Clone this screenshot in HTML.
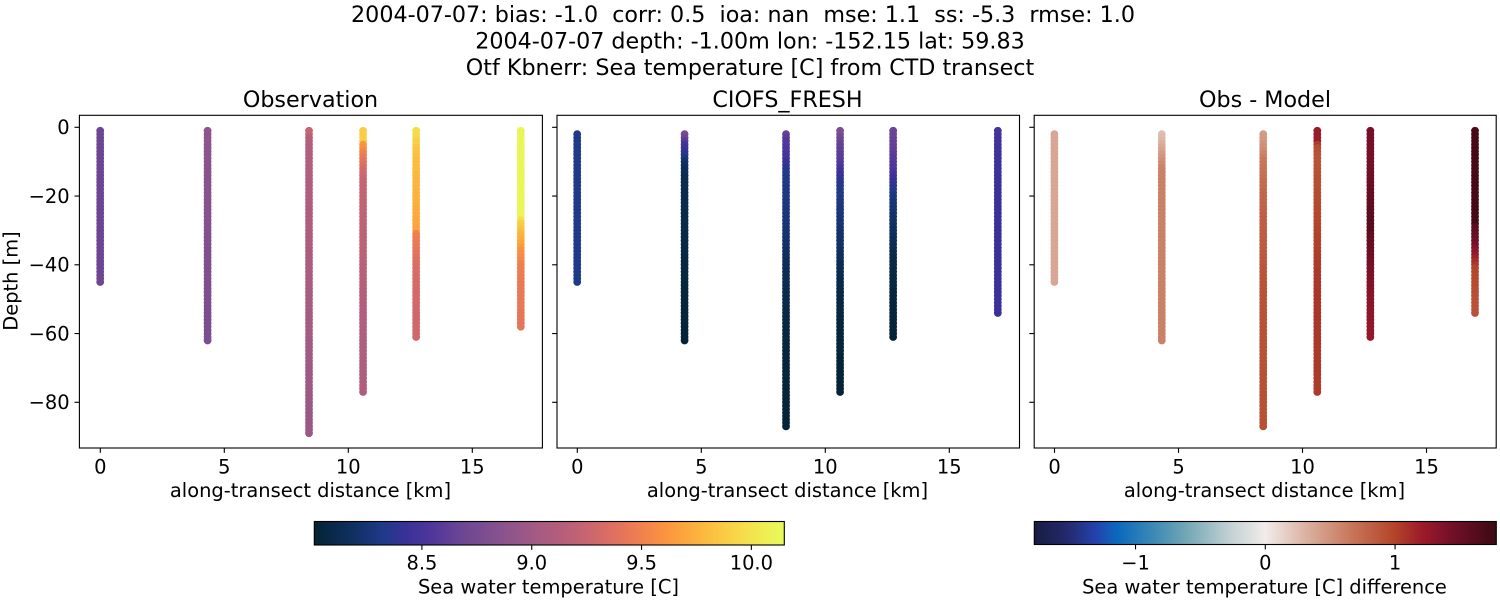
<!DOCTYPE html>
<html>
<head>
<meta charset="utf-8">
<title>CTD transect comparison</title>
<style>
html,body{margin:0;padding:0;background:#fff;}
svg{display:block;}
text{font-family:"DejaVu Sans","Liberation Sans",sans-serif;fill:#000;white-space:pre;}
.sup,.ttl{font-size:22.22px;text-anchor:middle;}
.lab{font-size:19.44px;text-anchor:middle;}
.tk{font-size:19.44px;text-anchor:middle;}
.tky{font-size:19.44px;text-anchor:end;}
</style>
</head>
<body>
<svg id="fig" xmlns="http://www.w3.org/2000/svg" width="1500" height="600" viewBox="0 0 1500 600">
<text class="sup" x="743" y="22">2004-07-07: bias: -1.0  corr: 0.5  ioa: nan  mse: 1.1  ss: -5.3  rmse: 1.0</text>
<text class="sup" x="750" y="48.5">2004-07-07 depth: -1.00m lon: -152.15 lat: 59.83</text>
<text class="sup" x="750" y="75">Otf Kbnerr: Sea temperature [C] from CTD transect</text>
<text class="ttl" x="310.5" y="107">Observation</text>
<text class="ttl" x="787.5" y="107">CIOFS_FRESH</text>
<text class="ttl" x="1265" y="107">Obs - Model</text>
<text class="lab" transform="translate(17.5 281) rotate(-90)">Depth [m]</text>
<text class="lab" x="310.5" y="497">along-transect distance [km]</text>
<text class="lab" x="787.5" y="497">along-transect distance [km]</text>
<text class="lab" x="1264.5" y="497">along-transect distance [km]</text>
<text class="lab" x="548.5" y="593.5">Sea water temperature [C]</text>
<text class="lab" x="1264.5" y="593.5">Sea water temperature [C] difference</text>
</svg>
<script>
const stationKm = [0, 4.33, 8.42, 10.6, 12.74, 16.96];
const xTickValues = [0, 5, 10, 15];
const yTickValues = [0, -20, -40, -60, -80];
const tempTickValues = [8.5, 9.0, 9.5, 10.0];
const diffTickValues = [-1, 0, 1];
const tempRange = [8.01, 10.15];
const diffRange = [-1.78, 1.78];

const obsTopDepth = [-1, -1, -1, -1, -1, -1];
const modelTopDepth = [-2, -2, -2, -1, -1, -1];
const diffTopDepth = [-2, -2, -2, -1, -1, -1];

const obsStation0 = [8.70,8.70,8.70,8.70,8.70,8.69,8.69,8.69,8.69,8.69,
8.69,8.69,8.69,8.69,8.69,8.69,8.69,8.69,8.69,8.69,
8.69,8.69,8.69,8.69,8.69,8.69,8.69,8.69,8.69,8.69,
8.69,8.69,8.69,8.69,8.69,8.69,8.69,8.69,8.69,8.69,
8.69,8.70,8.70,8.70,8.70];
const obsStation1 = [8.89,8.89,8.89,8.89,8.89,8.88,8.88,8.88,8.88,8.88,
8.87,8.87,8.87,8.87,8.87,8.86,8.86,8.86,8.86,8.86,
8.85,8.85,8.85,8.85,8.85,8.84,8.84,8.84,8.84,8.84,
8.83,8.83,8.83,8.83,8.83,8.82,8.82,8.82,8.82,8.82,
8.81,8.81,8.81,8.81,8.81,8.80,8.80,8.80,8.80,8.80,
8.79,8.79,8.79,8.79,8.79,8.78,8.78,8.78,8.78,8.78,
8.78,8.78];
const obsStation2 = [9.25,9.24,9.16,9.14,9.13,9.12,9.12,9.12,9.12,9.12,
9.12,9.12,9.12,9.12,9.12,9.11,9.11,9.11,9.11,9.11,
9.11,9.11,9.11,9.10,9.10,9.10,9.10,9.10,9.10,9.10,
9.09,9.09,9.09,9.09,9.09,9.08,9.08,9.08,9.08,9.08,
9.07,9.07,9.07,9.07,9.07,9.06,9.06,9.06,9.06,9.05,
9.05,9.05,9.05,9.04,9.04,9.04,9.04,9.03,9.03,9.03,
9.03,9.02,9.02,9.02,9.02,9.01,9.01,9.01,9.01,9.00,
9.00,9.00,9.00,8.99,8.99,8.99,8.99,8.98,8.98,8.98,
8.98,8.97,8.97,8.97,8.97,8.97,8.97,8.97,8.97];
const obsStation3 = [9.89,9.89,9.89,9.88,9.62,9.58,9.52,9.48,9.44,9.40,
9.37,9.34,9.31,9.28,9.25,9.24,9.23,9.23,9.22,9.22,
9.22,9.21,9.21,9.21,9.21,9.20,9.20,9.20,9.20,9.20,
9.20,9.19,9.19,9.19,9.19,9.18,9.18,9.18,9.17,9.17,
9.17,9.16,9.16,9.16,9.15,9.15,9.14,9.14,9.13,9.13,
9.12,9.12,9.12,9.12,9.12,9.12,9.12,9.12,9.11,9.11,
9.11,9.11,9.11,9.11,9.11,9.11,9.11,9.10,9.10,9.10,
9.10,9.10,9.10,9.10,9.10,9.10,9.10];
const obsStation4 = [9.96,9.96,9.94,9.90,9.88,9.85,9.84,9.82,9.81,9.80,
9.80,9.79,9.79,9.78,9.78,9.77,9.77,9.76,9.76,9.75,
9.75,9.74,9.73,9.72,9.72,9.71,9.70,9.70,9.69,9.68,
9.50,9.48,9.46,9.45,9.43,9.42,9.40,9.38,9.37,9.35,
9.34,9.34,9.33,9.33,9.32,9.32,9.32,9.31,9.31,9.31,
9.30,9.30,9.30,9.29,9.29,9.29,9.29,9.28,9.28,9.28,
9.28];
const obsStation5 = [10.12,10.12,10.12,10.12,10.12,10.12,10.12,10.12,10.12,10.12,
10.12,10.12,10.12,10.12,10.12,10.12,10.12,10.12,10.12,10.12,
10.12,10.12,10.12,10.12,10.12,10.11,9.98,9.90,9.86,9.82,
9.78,9.75,9.72,9.68,9.64,9.60,9.57,9.55,9.52,9.50,
9.49,9.48,9.47,9.46,9.45,9.45,9.44,9.44,9.44,9.43,
9.43,9.43,9.43,9.42,9.42,9.42,9.42,9.42];
const obsSeries = [obsStation0, obsStation1, obsStation2, obsStation3, obsStation4, obsStation5];

const modelStation0 = [8.33,8.33,8.33,8.33,8.33,8.32,8.32,8.32,8.32,8.32,
8.32,8.32,8.32,8.32,8.32,8.32,8.32,8.32,8.32,8.32,
8.32,8.32,8.32,8.32,8.32,8.32,8.32,8.32,8.32,8.32,
8.32,8.32,8.32,8.32,8.32,8.32,8.32,8.32,8.32,8.32,
8.32,8.32,8.32,8.32];
const modelStation1 = [8.77,8.70,8.60,8.50,8.45,8.40,8.35,8.28,8.22,8.19,
8.16,8.15,8.14,8.12,8.12,8.12,8.12,8.11,8.11,8.11,
8.11,8.11,8.11,8.10,8.10,8.10,8.10,8.10,8.10,8.09,
8.09,8.09,8.08,8.08,8.08,8.08,8.07,8.07,8.07,8.07,
8.06,8.06,8.06,8.06,8.05,8.05,8.05,8.05,8.05,8.04,
8.04,8.04,8.04,8.04,8.04,8.04,8.03,8.03,8.03,8.03,
8.03];
const modelStation2 = [8.65,8.60,8.55,8.54,8.53,8.52,8.50,8.50,8.42,8.42,
8.35,8.35,8.34,8.33,8.32,8.31,8.30,8.30,8.30,8.29,
8.29,8.29,8.28,8.28,8.27,8.27,8.26,8.26,8.25,8.24,
8.23,8.22,8.21,8.20,8.19,8.18,8.17,8.16,8.15,8.15,
8.14,8.14,8.13,8.13,8.12,8.12,8.11,8.11,8.10,8.10,
8.10,8.09,8.09,8.08,8.08,8.07,8.07,8.07,8.06,8.06,
8.06,8.05,8.05,8.05,8.05,8.05,8.04,8.04,8.04,8.04,
8.04,8.04,8.04,8.04,8.03,8.03,8.03,8.03,8.03,8.03,
8.03,8.03,8.03,8.03,8.03,8.03];
const modelStation3 = [8.80,8.78,8.72,8.70,8.65,8.64,8.62,8.61,8.60,8.58,
8.54,8.50,8.46,8.42,8.40,8.38,8.35,8.33,8.33,8.32,
8.31,8.30,8.29,8.28,8.28,8.27,8.26,8.25,8.24,8.23,
8.22,8.21,8.21,8.20,8.20,8.19,8.18,8.17,8.16,8.15,
8.14,8.13,8.12,8.11,8.10,8.10,8.09,8.09,8.08,8.08,
8.07,8.07,8.06,8.06,8.05,8.05,8.05,8.05,8.04,8.04,
8.04,8.04,8.04,8.04,8.04,8.04,8.03,8.03,8.03,8.03,
8.03,8.03,8.03,8.03,8.03,8.03,8.03];
const modelStation4 = [8.68,8.68,8.67,8.66,8.65,8.64,8.62,8.60,8.59,8.58,
8.56,8.55,8.52,8.48,8.44,8.40,8.38,8.35,8.32,8.30,
8.29,8.27,8.26,8.25,8.23,8.22,8.21,8.20,8.19,8.18,
8.17,8.16,8.15,8.14,8.13,8.12,8.11,8.10,8.10,8.09,
8.09,8.08,8.08,8.07,8.07,8.06,8.06,8.05,8.05,8.05,
8.05,8.04,8.04,8.04,8.04,8.04,8.03,8.03,8.03,8.03,
8.03];
const modelStation5 = [8.50,8.49,8.48,8.47,8.47,8.46,8.46,8.46,8.45,8.45,
8.45,8.45,8.45,8.45,8.45,8.45,8.45,8.44,8.44,8.44,
8.44,8.44,8.44,8.44,8.44,8.44,8.44,8.44,8.44,8.44,
8.44,8.44,8.44,8.44,8.44,8.44,8.44,8.44,8.44,8.44,
8.44,8.44,8.44,8.44,8.44,8.44,8.44,8.44,8.44,8.44,
8.44,8.44,8.44,8.44];
const modelSeries = [modelStation0, modelStation1, modelStation2, modelStation3, modelStation4, modelStation5];

const diffStation0 = [0.38,0.38,0.38,0.38,0.38,0.38,0.38,0.38,0.38,0.38,
0.38,0.38,0.38,0.38,0.38,0.38,0.38,0.38,0.38,0.38,
0.38,0.38,0.38,0.38,0.38,0.38,0.38,0.38,0.38,0.38,
0.38,0.38,0.38,0.38,0.38,0.38,0.38,0.38,0.38,0.38,
0.38,0.38,0.38,0.38];
const diffStation1 = [0.25,0.27,0.29,0.33,0.37,0.41,0.45,0.49,0.52,0.56,
0.59,0.60,0.60,0.60,0.60,0.60,0.60,0.60,0.60,0.60,
0.60,0.60,0.60,0.60,0.60,0.60,0.60,0.60,0.60,0.60,
0.60,0.60,0.60,0.60,0.60,0.60,0.60,0.60,0.60,0.60,
0.60,0.60,0.60,0.60,0.60,0.60,0.60,0.60,0.60,0.60,
0.60,0.60,0.60,0.60,0.60,0.60,0.60,0.60,0.60,0.60,
0.60];
const diffStation2 = [0.45,0.46,0.47,0.50,0.52,0.55,0.59,0.63,0.65,0.67,
0.68,0.69,0.70,0.71,0.72,0.73,0.74,0.75,0.76,0.77,
0.77,0.78,0.79,0.80,0.80,0.81,0.81,0.82,0.82,0.83,
0.83,0.84,0.84,0.85,0.85,0.86,0.86,0.87,0.87,0.88,
0.88,0.89,0.89,0.89,0.89,0.90,0.90,0.90,0.90,0.90,
0.90,0.90,0.90,0.90,0.90,0.90,0.91,0.91,0.91,0.91,
0.91,0.91,0.91,0.91,0.91,0.91,0.91,0.91,0.91,0.91,
0.92,0.92,0.92,0.92,0.92,0.92,0.92,0.92,0.92,0.92,
0.92,0.92,0.92,0.92,0.92,0.92];
const diffStation3 = [1.22,1.22,1.22,1.22,1.05,0.95,0.93,0.91,0.90,0.90,
0.91,0.91,0.92,0.92,0.93,0.93,0.94,0.94,0.95,0.95,
0.95,0.96,0.96,0.97,0.97,0.98,0.98,0.99,0.99,1.00,
1.00,1.01,1.01,1.02,1.02,1.03,1.03,1.04,1.04,1.05,
1.05,1.06,1.06,1.06,1.07,1.07,1.07,1.08,1.08,1.08,
1.08,1.08,1.08,1.08,1.08,1.08,1.07,1.07,1.07,1.07,
1.07,1.07,1.07,1.06,1.06,1.06,1.06,1.06,1.06,1.06,
1.06,1.05,1.05,1.05,1.05,1.05,1.05];
const diffStation4 = [1.42,1.42,1.42,1.42,1.42,1.42,1.42,1.42,1.42,1.42,
1.43,1.44,1.45,1.46,1.47,1.48,1.49,1.50,1.51,1.52,
1.53,1.54,1.55,1.56,1.58,1.59,1.60,1.62,1.62,1.61,
1.58,1.55,1.53,1.52,1.50,1.48,1.47,1.45,1.44,1.42,
1.41,1.40,1.39,1.38,1.37,1.36,1.35,1.34,1.33,1.32,
1.31,1.31,1.30,1.29,1.29,1.28,1.27,1.27,1.26,1.26,
1.25];
const diffStation5 = [1.72,1.72,1.72,1.72,1.72,1.72,1.72,1.72,1.72,1.72,
1.72,1.72,1.72,1.72,1.72,1.72,1.72,1.72,1.72,1.72,
1.72,1.72,1.72,1.72,1.72,1.72,1.72,1.72,1.60,1.56,
1.53,1.50,1.46,1.42,1.38,1.30,1.25,1.18,1.12,1.06,
1.00,0.99,0.98,0.97,0.96,0.95,0.94,0.93,0.92,0.92,
0.91,0.91,0.90,0.90];
const diffSeries = [diffStation0, diffStation1, diffStation2, diffStation3, diffStation4, diffStation5];

const thermalStops = [[0,'#052333'],[0.077,'#0f2f5e'],[0.147,'#1f3a88'],[0.197,'#3a3198'],[0.25,'#4f369b'],[0.31,'#6a4594'],[0.367,'#7d4e90'],[0.423,'#92558a'],[0.48,'#a75b82'],[0.536,'#b85f79'],[0.586,'#ca6670'],[0.64,'#e0715f'],[0.69,'#ee7f50'],[0.74,'#fb9140'],[0.795,'#fca93d'],[0.85,'#fbc341'],[0.91,'#f6db4a'],[0.96,'#eeef52'],[1,'#e7fa5a']];
const balanceStops = [[0,'#181c43'],[0.07,'#24296a'],[0.135,'#2443ae'],[0.18,'#0b69bd'],[0.26,'#3d8ab4'],[0.33,'#74a7b5'],[0.42,'#c0cfd3'],[0.5,'#f1ecea'],[0.59,'#dbb0a0'],[0.69,'#c77458'],[0.78,'#b3442a'],[0.84,'#9c1a2b'],[0.9,'#751029'],[1,'#3c0912']];

const svgNS = 'http://www.w3.org/2000/svg';
const fig = document.getElementById('fig');

function hexRgb(h){return [parseInt(h.slice(1,3),16),parseInt(h.slice(3,5),16),parseInt(h.slice(5,7),16)];}
function sampleMap(stops,t){
  t = Math.max(0,Math.min(1,t));
  for(let i=1;i<stops.length;i++){
    if(t<=stops[i][0]){
      const a=stops[i-1],b=stops[i];
      const f=(t-a[0])/(b[0]-a[0]);
      const ca=hexRgb(a[1]),cb=hexRgb(b[1]);
      return 'rgb('+ca.map((c,k)=>Math.round(c+(cb[k]-c)*f)).join(',')+')';
    }
  }
  return stops[stops.length-1][1];
}
function make(tag,parent){
  const el=document.createElementNS(svgNS,tag);
  parent.appendChild(el);
  return el;
}
function yScale(d){return 127.3+(-d)*3.4375;}

const panels = [
  {name:'observation',left:79.4,width:463,zero:100.2,series:obsSeries,tops:obsTopDepth,stops:thermalStops,range:tempRange,labels:true},
  {name:'model',left:557,width:462.5,zero:577.2,series:modelSeries,tops:modelTopDepth,stops:thermalStops,range:tempRange,labels:false},
  {name:'difference',left:1034.2,width:462,zero:1054.4,series:diffSeries,tops:diffTopDepth,stops:balanceStops,range:diffRange,labels:false}
];
const axTop=115.3, axBottom=448;

panels.forEach(function(p){
  const xScale=function(km){return p.zero+km*24.8;};
  const group=make('g',fig);
  
  

  p.series.forEach(function(values,s){
    const stationGroup=make('g',group);
    
    
    values.forEach(function(v,i){
      const c=make('circle',stationGroup);
      
      
      c.setAttribute('cx',xScale(stationKm[s]).toFixed(2));
      c.setAttribute('cy',yScale(p.tops[s]-i).toFixed(2));
      c.setAttribute('r','3.9');
      c.setAttribute('fill',sampleMap(p.stops,(v-p.range[0])/(p.range[1]-p.range[0])));
    });
  });

  const frame=make('rect',group);
  
  
  frame.setAttribute('x',p.left);
  frame.setAttribute('y',axTop);
  frame.setAttribute('width',p.width);
  frame.setAttribute('height',axBottom-axTop);
  frame.setAttribute('fill','none');
  frame.setAttribute('stroke','#000');
  frame.setAttribute('stroke-width','1.11');

  xTickValues.forEach(function(t){
    const x=xScale(t)+0.1;
    const ln=make('line',group);
    
    
    ln.setAttribute('x1',x);ln.setAttribute('x2',x);
    ln.setAttribute('y1',axBottom);ln.setAttribute('y2',axBottom+4.9);
    ln.setAttribute('stroke','#000');ln.setAttribute('stroke-width','1.11');
    const tx=make('text',group);
    
    
    tx.setAttribute('class','tk');
    tx.setAttribute('x',x);tx.setAttribute('y',473.5);
    tx.textContent=String(t);
  });
  yTickValues.forEach(function(t){
    const y=yScale(t);
    const ln=make('line',group);
    
    
    ln.setAttribute('x1',p.left-4.9);ln.setAttribute('x2',p.left);
    ln.setAttribute('y1',y);ln.setAttribute('y2',y);
    ln.setAttribute('stroke','#000');ln.setAttribute('stroke-width','1.11');
    if(p.labels){
      const tx=make('text',group);
      
      
      tx.setAttribute('class','tky');
      tx.setAttribute('x',p.left-9.8);tx.setAttribute('y',y+6.9);
      tx.textContent=t<0?'\u2212'+Math.abs(t):String(t);
    }
  });
});

const defs=make('defs',fig);
function colorbar(id,x,w,y,h,stops,range,ticks,fmt){
  const g=make('linearGradient',defs);
  g.setAttribute('id',id+'-grad');
  stops.forEach(function(s){
    const st=make('stop',g);
    st.setAttribute('offset',s[0]);
    st.setAttribute('stop-color',s[1]);
  });
  const grp=make('g',fig);
  
  
  const r=make('rect',grp);
  
  
  r.setAttribute('x',x);r.setAttribute('y',y);
  r.setAttribute('width',w);r.setAttribute('height',h);
  r.setAttribute('fill','url(#'+id+'-grad)');
  r.setAttribute('stroke','#000');r.setAttribute('stroke-width','1.11');
  ticks.forEach(function(t){
    const tx=x+(t-range[0])/(range[1]-range[0])*w;
    const ln=make('line',grp);
    
    
    ln.setAttribute('x1',tx);ln.setAttribute('x2',tx);
    ln.setAttribute('y1',y+h);ln.setAttribute('y2',y+h+4.9);
    ln.setAttribute('stroke','#000');ln.setAttribute('stroke-width','1.11');
    const lb=make('text',grp);
    
    
    lb.setAttribute('class','tk');
    lb.setAttribute('x',tx);lb.setAttribute('y',569.5);
    lb.textContent=fmt(t);
  });
}
colorbar('temperature',314.3,470,521.5,23.5,thermalStops,tempRange,tempTickValues,function(t){return t.toFixed(1);});
colorbar('difference',1034.3,462,521.5,23,balanceStops,diffRange,diffTickValues,function(t){return t<0?'\u2212'+Math.abs(t):String(t);});
</script>
</body>
</html>
